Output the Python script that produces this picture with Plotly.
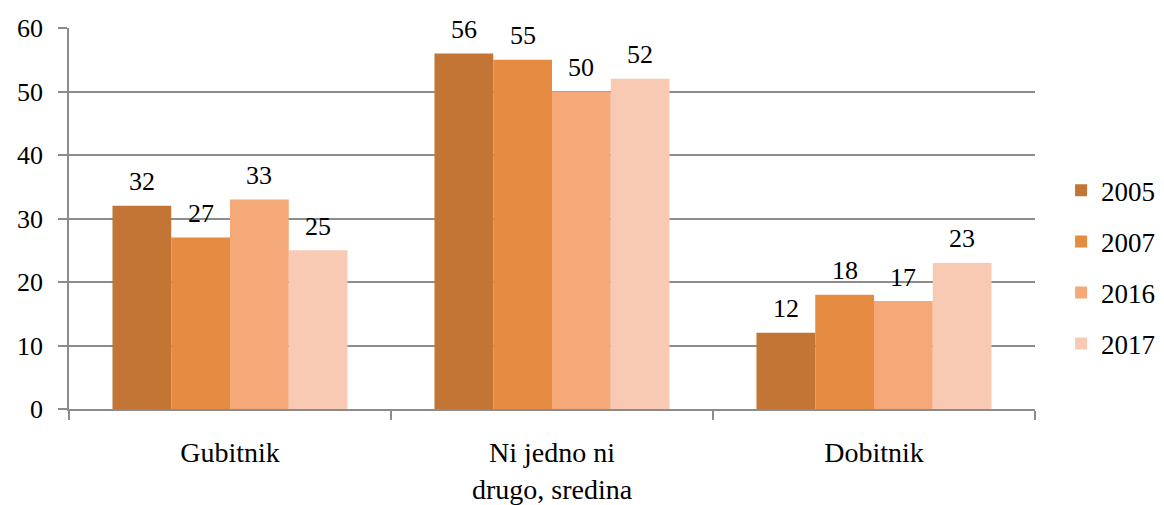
import plotly.graph_objects as go

categories = ["Gubitnik", "Ni jedno ni<br>drugo, sredina", "Dobitnik"]
years = ["2005", "2007", "2016", "2017"]
values_2005 = [32, 56, 12]
values_2007 = [27, 55, 18]
values_2016 = [33, 50, 17]
values_2017 = [25, 52, 23]
colors = ["#C27534", "#E68C42", "#F5A878", "#F8CAB3"]

series = [values_2005, values_2007, values_2016, values_2017]
FONT = "Liberation Serif"

# page body has an 8px margin: shrink the figure so that it fills the window
W, H = 1156, 497
M_L, M_R, M_T, M_B = 61, 129, 20, 96
BARGAP = 0.27

fig = go.Figure()
for i, (yr, vals) in enumerate(zip(years, series)):
    fig.add_trace(go.Bar(
        name=yr, x=categories, y=vals,
        marker=dict(color=colors[i], line=dict(width=0)),
        legendgroup=yr,
    ))

# data labels above each bar, centred on the bar
plot_w = W - M_L - M_R
bar_px = plot_w / len(categories) * (1 - BARGAP) / len(series)
for i, vals in enumerate(series):
    for cat, v in zip(categories, vals):
        fig.add_annotation(
            x=cat, y=v, xref="x", yref="y",
            text=str(v), showarrow=False,
            xanchor="center", yanchor="middle",
            xshift=(i - (len(series) - 1) / 2) * bar_px, yshift=24,
            font=dict(family=FONT, size=26, color="#000000"),
        )

fig.update_layout(
    width=W, height=H,
    margin=dict(l=M_L, r=M_R, t=M_T, b=M_B, autoexpand=False),
    barmode="group", bargap=BARGAP, bargroupgap=0,
    paper_bgcolor="white", plot_bgcolor="white",
    font=dict(family=FONT, size=26, color="#000000"),
    legend=dict(
        x=1.027, y=0.372, xanchor="left", yanchor="middle",
        font=dict(family=FONT, size=27, color="#000000"),
        traceorder="grouped", tracegroupgap=13,
        itemwidth=30,
    ),
    showlegend=True,
)
fig.update_yaxes(
    range=[0, 60], dtick=10, automargin=False,
    showgrid=True, gridcolor="#8C8C8C", gridwidth=1.5,
    showline=True, linecolor="#8C8C8C", linewidth=1.5,
    ticks="outside", ticklen=9, tickcolor="#8C8C8C", tickwidth=1.5,
    ticklabelstandoff=10,
    tickfont=dict(family=FONT, size=26, color="#000000"),
    zeroline=False,
)
fig.update_xaxes(
    automargin=False,
    showline=True, linecolor="#8C8C8C", linewidth=1.5,
    ticks="outside", ticklen=9, tickcolor="#8C8C8C", tickwidth=1.5,
    tickson="boundaries",
    ticklabelstandoff=18,
    tickfont=dict(family=FONT, size=28, color="#000000"),
)

fig.write_html("out.html")
